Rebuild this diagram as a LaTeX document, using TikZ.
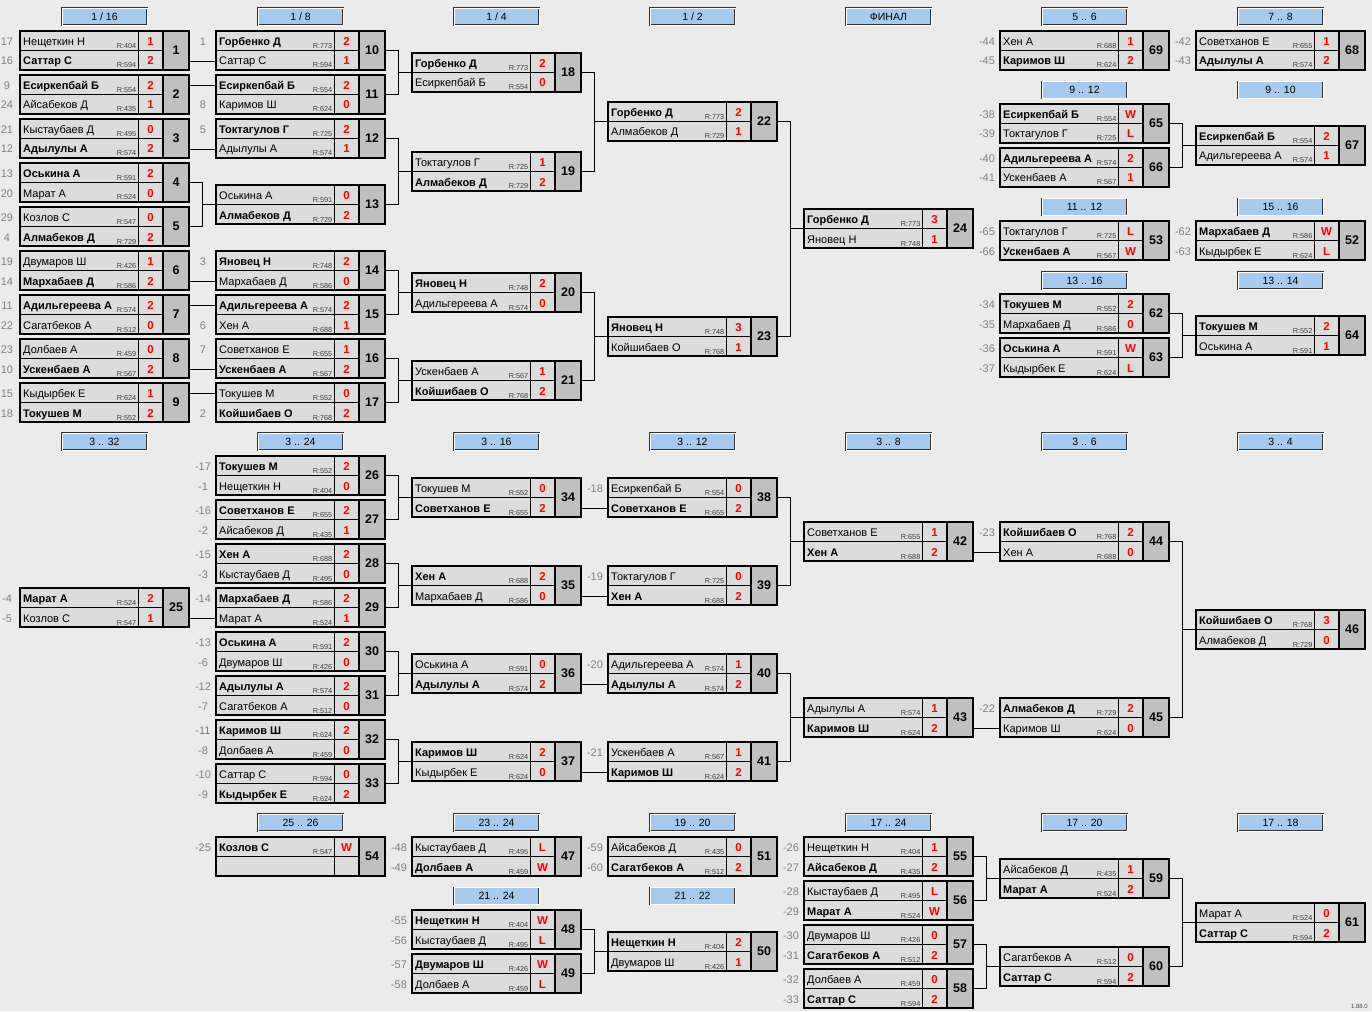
\documentclass[tikz,border=0pt]{standalone}
\usepackage{fontspec}
\setmainfont{Liberation Sans}
\usetikzlibrary{calc}
\definecolor{bg}{RGB}{235,235,235}
\definecolor{rowgray}{RGB}{220,220,220}
\definecolor{numgray}{RGB}{192,192,192}
\definecolor{headblue}{RGB}{166,202,240}
\definecolor{seedgray}{RGB}{128,128,128}
\tikzset{
  mbox/.style={anchor=north west,minimum width=169,minimum height=39,inner sep=0,outer sep=0,
    fill=rowgray,draw,line width=2.4pt},
  nbox/.style={anchor=north east,minimum width=26,minimum height=39,inner sep=0,outer sep=0,
    fill=numgray,draw,line width=2.4pt,font=\fontsize{12.5}{14}\selectfont\bfseries},
  cellline/.style={line width=0.8pt},
  wire/.style={line width=0.9pt},
  seed/.style={anchor=base,inner sep=0,text=seedgray,font=\fontsize{11}{13}\selectfont},
  pname/.style={anchor=base west,inner sep=0,font=\fontsize{11}{13}\selectfont},
  winner/.style={font=\fontsize{11}{13}\selectfont\bfseries},
  loser/.style={},
  rate/.style={anchor=base east,inner sep=0,text=black!75,font=\fontsize{7.3}{8}\selectfont},
  score/.style={anchor=base,inner sep=0,text=red,font=\fontsize{11.5}{13}\selectfont\bfseries},
  stagehead/.style={minimum width=85,minimum height=17,inner sep=0,fill=headblue,
    draw=black!80,double=white,double distance=0.9pt,font=\fontsize{10.5}{12}\selectfont}
}
% one match: frame and number cell
\newcommand\Match[3]{% #1 number, #2 left, #3 top
  \node[mbox] (m#1) at (#2,#3) {};
  \node[nbox] (n#1) at (m#1.north east) {#1};
  \draw[cellline] (m#1.west) -- (n#1.west);
  \draw[cellline] ($(m#1.north west)+(118,0)$) -- ($(m#1.south west)+(118,0)$);
}
% one player row
\newcommand\Pl[8]{% #1 row, #2 offset, #3 match, #4 seed, #5 style, #6 name, #7 rating, #8 score
  \coordinate (c#3#1) at ($(m#3.north west)+(0,10.5+#2)$);
  \node[seed] (k#3#1) at ($(m#3.north west)+(-13,14.5+#2)$) {#4};
  \node[pname,#5] (p#3#1) at ($(m#3.north west)+(3,14.5+#2)$) {#6};
  \node[rate] (r#3#1) at ($(m#3.north west)+(116.5,17.5+#2)$) {R:#7};
  \node[score] (s#3#1) at ($(m#3.north west)+(130.5,14.5+#2)$) {#8};
}
\newcommand\PlA{\Pl{a}{0}}
\newcommand\PlB{\Pl{b}{19.5}}
\newcommand\Stage[4]{\node[stagehead] (h#1) at (#2+84.5,#3) {#4};}
\newcommand\Feed[2]{\draw[wire] (n#1.east |- c#2) -- (c#2);}
\newcommand\Pair[3]{%
  \draw[wire] (n#1.east) -- ++(13.5,0) coordinate (j#3) |- (n#2.east);
  \draw[wire] (j#3 |- m#3.west) -- (m#3.west);
}

\begin{document}
\begin{tikzpicture}[x=1pt,y=-1pt]
\useasboundingbox (0,0) rectangle (1372,1011);
\fill[bg] (0,0) rectangle (1372,1011);
\def\cA{20} \def\cB{216} \def\cC{412} \def\cD{608}
\def\cE{804} \def\cF{1000} \def\cG{1196}

% stage headers
\Stage{a}{\cA}{16.5}{1 / 16} \Stage{b}{\cB}{16.5}{1 / 8}
\Stage{c}{\cC}{16.5}{1 / 4} \Stage{d}{\cD}{16.5}{1 / 2}
\Stage{e}{\cE}{16.5}{ФИНАЛ} \Stage{f}{\cF}{16.5}{5 .. 6}
\Stage{g}{\cG}{16.5}{7 .. 8}
\Stage{h}{\cF}{90}{9 .. 12} \Stage{i}{\cG}{90}{9 .. 10}
\Stage{j}{\cF}{207}{11 .. 12} \Stage{k}{\cG}{207}{15 .. 16}
\Stage{l}{\cF}{280.5}{13 .. 16} \Stage{m}{\cG}{280.5}{13 .. 14}
\Stage{n}{\cA}{441.5}{3 .. 32} \Stage{o}{\cB}{441.5}{3 .. 24}
\Stage{p}{\cC}{441.5}{3 .. 16} \Stage{q}{\cD}{441.5}{3 .. 12}
\Stage{r}{\cE}{441.5}{3 .. 8} \Stage{s}{\cF}{441.5}{3 .. 6}
\Stage{t}{\cG}{441.5}{3 .. 4}
\Stage{u}{\cB}{822.5}{25 .. 26} \Stage{v}{\cC}{822.5}{23 .. 24}
\Stage{w}{\cD}{822.5}{19 .. 20} \Stage{x}{\cE}{822.5}{17 .. 24}
\Stage{y}{\cF}{822.5}{17 .. 20} \Stage{z}{\cG}{822.5}{17 .. 18}
\Stage{aa}{\cC}{896}{21 .. 24} \Stage{ab}{\cD}{896}{21 .. 22}

% 1/16
\Match{1}{\cA}{31} \PlA{1}{17}{loser}{Нещеткин Н}{404}{1} \PlB{1}{16}{winner}{Саттар С}{594}{2}
\Match{2}{\cA}{75} \PlA{2}{9}{winner}{Есиркепбай Б}{554}{2} \PlB{2}{24}{loser}{Айсабеков Д}{435}{1}
\Match{3}{\cA}{119} \PlA{3}{21}{loser}{Кыстаубаев Д}{495}{0} \PlB{3}{12}{winner}{Адылулы А}{574}{2}
\Match{4}{\cA}{163} \PlA{4}{13}{winner}{Оськина А}{591}{2} \PlB{4}{20}{loser}{Марат А}{524}{0}
\Match{5}{\cA}{207} \PlA{5}{29}{loser}{Козлов С}{547}{0} \PlB{5}{4}{winner}{Алмабеков Д}{729}{2}
\Match{6}{\cA}{251} \PlA{6}{19}{loser}{Двумаров Ш}{426}{1} \PlB{6}{14}{winner}{Мархабаев Д}{586}{2}
\Match{7}{\cA}{295} \PlA{7}{11}{winner}{Адильгереева А}{574}{2} \PlB{7}{22}{loser}{Сагатбеков А}{512}{0}
\Match{8}{\cA}{339} \PlA{8}{23}{loser}{Долбаев А}{459}{0} \PlB{8}{10}{winner}{Ускенбаев А}{567}{2}
\Match{9}{\cA}{383} \PlA{9}{15}{loser}{Кыдырбек Е}{624}{1} \PlB{9}{18}{winner}{Токушев М}{552}{2}

% 1/8
\Match{10}{\cB}{31} \PlA{10}{1}{winner}{Горбенко Д}{773}{2} \PlB{10}{}{loser}{Саттар С}{594}{1}
\Match{11}{\cB}{75} \PlA{11}{}{winner}{Есиркепбай Б}{554}{2} \PlB{11}{8}{loser}{Каримов Ш}{624}{0}
\Match{12}{\cB}{119} \PlA{12}{5}{winner}{Токтагулов Г}{725}{2} \PlB{12}{}{loser}{Адылулы А}{574}{1}
\Match{13}{\cB}{185} \PlA{13}{}{loser}{Оськина А}{591}{0} \PlB{13}{}{winner}{Алмабеков Д}{729}{2}
\Match{14}{\cB}{251} \PlA{14}{3}{winner}{Яновец Н}{748}{2} \PlB{14}{}{loser}{Мархабаев Д}{586}{0}
\Match{15}{\cB}{295} \PlA{15}{}{winner}{Адильгереева А}{574}{2} \PlB{15}{6}{loser}{Хен А}{688}{1}
\Match{16}{\cB}{339} \PlA{16}{7}{loser}{Советханов Е}{655}{1} \PlB{16}{}{winner}{Ускенбаев А}{567}{2}
\Match{17}{\cB}{383} \PlA{17}{}{loser}{Токушев М}{552}{0} \PlB{17}{2}{winner}{Койшибаев О}{768}{2}

% 1/4, 1/2, final
\Match{18}{\cC}{53} \PlA{18}{}{winner}{Горбенко Д}{773}{2} \PlB{18}{}{loser}{Есиркепбай Б}{554}{0}
\Match{19}{\cC}{152} \PlA{19}{}{loser}{Токтагулов Г}{725}{1} \PlB{19}{}{winner}{Алмабеков Д}{729}{2}
\Match{20}{\cC}{273} \PlA{20}{}{winner}{Яновец Н}{748}{2} \PlB{20}{}{loser}{Адильгереева А}{574}{0}
\Match{21}{\cC}{361} \PlA{21}{}{loser}{Ускенбаев А}{567}{1} \PlB{21}{}{winner}{Койшибаев О}{768}{2}
\Match{22}{\cD}{102} \PlA{22}{}{winner}{Горбенко Д}{773}{2} \PlB{22}{}{loser}{Алмабеков Д}{729}{1}
\Match{23}{\cD}{317} \PlA{23}{}{winner}{Яновец Н}{748}{3} \PlB{23}{}{loser}{Койшибаев О}{768}{1}
\Match{24}{\cE}{209} \PlA{24}{}{winner}{Горбенко Д}{773}{3} \PlB{24}{}{loser}{Яновец Н}{748}{1}

% places 5 .. 16
\Match{69}{\cF}{31} \PlA{69}{-44}{loser}{Хен А}{688}{1} \PlB{69}{-45}{winner}{Каримов Ш}{624}{2}
\Match{68}{\cG}{31} \PlA{68}{-42}{loser}{Советханов Е}{655}{1} \PlB{68}{-43}{winner}{Адылулы А}{574}{2}
\Match{65}{\cF}{104} \PlA{65}{-38}{winner}{Есиркепбай Б}{554}{W} \PlB{65}{-39}{loser}{Токтагулов Г}{725}{L}
\Match{66}{\cF}{148} \PlA{66}{-40}{winner}{Адильгереева А}{574}{2} \PlB{66}{-41}{loser}{Ускенбаев А}{567}{1}
\Match{67}{\cG}{126} \PlA{67}{}{winner}{Есиркепбай Б}{554}{2} \PlB{67}{}{loser}{Адильгереева А}{574}{1}
\Match{53}{\cF}{221} \PlA{53}{-65}{loser}{Токтагулов Г}{725}{L} \PlB{53}{-66}{winner}{Ускенбаев А}{567}{W}
\Match{52}{\cG}{221} \PlA{52}{-62}{winner}{Мархабаев Д}{586}{W} \PlB{52}{-63}{loser}{Кыдырбек Е}{624}{L}
\Match{62}{\cF}{294} \PlA{62}{-34}{winner}{Токушев М}{552}{2} \PlB{62}{-35}{loser}{Мархабаев Д}{586}{0}
\Match{63}{\cF}{338} \PlA{63}{-36}{winner}{Оськина А}{591}{W} \PlB{63}{-37}{loser}{Кыдырбек Е}{624}{L}
\Match{64}{\cG}{316} \PlA{64}{}{winner}{Токушев М}{552}{2} \PlB{64}{}{loser}{Оськина А}{591}{1}

% places 3 .. 32
\Match{25}{\cA}{588} \PlA{25}{-4}{winner}{Марат А}{524}{2} \PlB{25}{-5}{loser}{Козлов С}{547}{1}
\Match{26}{\cB}{456} \PlA{26}{-17}{winner}{Токушев М}{552}{2} \PlB{26}{-1}{loser}{Нещеткин Н}{404}{0}
\Match{27}{\cB}{500} \PlA{27}{-16}{winner}{Советханов Е}{655}{2} \PlB{27}{-2}{loser}{Айсабеков Д}{435}{1}
\Match{28}{\cB}{544} \PlA{28}{-15}{winner}{Хен А}{688}{2} \PlB{28}{-3}{loser}{Кыстаубаев Д}{495}{0}
\Match{29}{\cB}{588} \PlA{29}{-14}{winner}{Мархабаев Д}{586}{2} \PlB{29}{}{loser}{Марат А}{524}{1}
\Match{30}{\cB}{632} \PlA{30}{-13}{winner}{Оськина А}{591}{2} \PlB{30}{-6}{loser}{Двумаров Ш}{426}{0}
\Match{31}{\cB}{676} \PlA{31}{-12}{winner}{Адылулы А}{574}{2} \PlB{31}{-7}{loser}{Сагатбеков А}{512}{0}
\Match{32}{\cB}{720} \PlA{32}{-11}{winner}{Каримов Ш}{624}{2} \PlB{32}{-8}{loser}{Долбаев А}{459}{0}
\Match{33}{\cB}{764} \PlA{33}{-10}{loser}{Саттар С}{594}{0} \PlB{33}{-9}{winner}{Кыдырбек Е}{624}{2}
\Match{34}{\cC}{478} \PlA{34}{}{loser}{Токушев М}{552}{0} \PlB{34}{}{winner}{Советханов Е}{655}{2}
\Match{35}{\cC}{566} \PlA{35}{}{winner}{Хен А}{688}{2} \PlB{35}{}{loser}{Мархабаев Д}{586}{0}
\Match{36}{\cC}{654} \PlA{36}{}{loser}{Оськина А}{591}{0} \PlB{36}{}{winner}{Адылулы А}{574}{2}
\Match{37}{\cC}{742} \PlA{37}{}{winner}{Каримов Ш}{624}{2} \PlB{37}{}{loser}{Кыдырбек Е}{624}{0}
\Match{38}{\cD}{478} \PlA{38}{-18}{loser}{Есиркепбай Б}{554}{0} \PlB{38}{}{winner}{Советханов Е}{655}{2}
\Match{39}{\cD}{566} \PlA{39}{-19}{loser}{Токтагулов Г}{725}{0} \PlB{39}{}{winner}{Хен А}{688}{2}
\Match{40}{\cD}{654} \PlA{40}{-20}{loser}{Адильгереева А}{574}{1} \PlB{40}{}{winner}{Адылулы А}{574}{2}
\Match{41}{\cD}{742} \PlA{41}{-21}{loser}{Ускенбаев А}{567}{1} \PlB{41}{}{winner}{Каримов Ш}{624}{2}
\Match{42}{\cE}{522} \PlA{42}{}{loser}{Советханов Е}{655}{1} \PlB{42}{}{winner}{Хен А}{688}{2}
\Match{43}{\cE}{698} \PlA{43}{}{loser}{Адылулы А}{574}{1} \PlB{43}{}{winner}{Каримов Ш}{624}{2}
\Match{44}{\cF}{522} \PlA{44}{-23}{winner}{Койшибаев О}{768}{2} \PlB{44}{}{loser}{Хен А}{688}{0}
\Match{45}{\cF}{698} \PlA{45}{-22}{winner}{Алмабеков Д}{729}{2} \PlB{45}{}{loser}{Каримов Ш}{624}{0}
\Match{46}{\cG}{610} \PlA{46}{}{winner}{Койшибаев О}{768}{3} \PlB{46}{}{loser}{Алмабеков Д}{729}{0}

% places 17 .. 26
\Match{54}{\cB}{837} \PlA{54}{-25}{winner}{Козлов С}{547}{W}
\Match{47}{\cC}{837} \PlA{47}{-48}{loser}{Кыстаубаев Д}{495}{L} \PlB{47}{-49}{winner}{Долбаев А}{459}{W}
\Match{51}{\cD}{837} \PlA{51}{-59}{loser}{Айсабеков Д}{435}{0} \PlB{51}{-60}{winner}{Сагатбеков А}{512}{2}
\Match{48}{\cC}{910} \PlA{48}{-55}{winner}{Нещеткин Н}{404}{W} \PlB{48}{-56}{loser}{Кыстаубаев Д}{495}{L}
\Match{49}{\cC}{954} \PlA{49}{-57}{winner}{Двумаров Ш}{426}{W} \PlB{49}{-58}{loser}{Долбаев А}{459}{L}
\Match{50}{\cD}{932} \PlA{50}{}{winner}{Нещеткин Н}{404}{2} \PlB{50}{}{loser}{Двумаров Ш}{426}{1}
\Match{55}{\cE}{837} \PlA{55}{-26}{loser}{Нещеткин Н}{404}{1} \PlB{55}{-27}{winner}{Айсабеков Д}{435}{2}
\Match{56}{\cE}{881} \PlA{56}{-28}{loser}{Кыстаубаев Д}{495}{L} \PlB{56}{-29}{winner}{Марат А}{524}{W}
\Match{57}{\cE}{925} \PlA{57}{-30}{loser}{Двумаров Ш}{426}{0} \PlB{57}{-31}{winner}{Сагатбеков А}{512}{2}
\Match{58}{\cE}{969} \PlA{58}{-32}{loser}{Долбаев А}{459}{0} \PlB{58}{-33}{winner}{Саттар С}{594}{2}
\Match{59}{\cF}{859} \PlA{59}{}{loser}{Айсабеков Д}{435}{1} \PlB{59}{}{winner}{Марат А}{524}{2}
\Match{60}{\cF}{947} \PlA{60}{}{loser}{Сагатбеков А}{512}{0} \PlB{60}{}{winner}{Саттар С}{594}{2}
\Match{61}{\cG}{903} \PlA{61}{}{loser}{Марат А}{524}{0} \PlB{61}{}{winner}{Саттар С}{594}{2}

% connectors
\Feed{1}{10b} \Feed{2}{11a} \Feed{3}{12b} \Feed{6}{14b}
\Feed{7}{15a} \Feed{8}{16b} \Feed{9}{17a} \Feed{25}{29b}
\Feed{34}{38b} \Feed{35}{39b} \Feed{36}{40b} \Feed{37}{41b}
\Feed{42}{44b} \Feed{43}{45b}
\Pair{4}{5}{13} \Pair{10}{11}{18} \Pair{12}{13}{19} \Pair{14}{15}{20}
\Pair{16}{17}{21} \Pair{18}{19}{22} \Pair{20}{21}{23} \Pair{22}{23}{24}
\Pair{65}{66}{67} \Pair{62}{63}{64}
\Pair{26}{27}{34} \Pair{28}{29}{35} \Pair{30}{31}{36} \Pair{32}{33}{37}
\Pair{38}{39}{42} \Pair{40}{41}{43} \Pair{44}{45}{46}
\Pair{48}{49}{50} \Pair{55}{56}{59} \Pair{57}{58}{60} \Pair{59}{60}{61}

\node[anchor=base east,inner sep=0,text=black!70,font=\fontsize{6}{7}\selectfont] (ver) at (1368,1008) {1.88.0};
\end{tikzpicture}
\end{document}
